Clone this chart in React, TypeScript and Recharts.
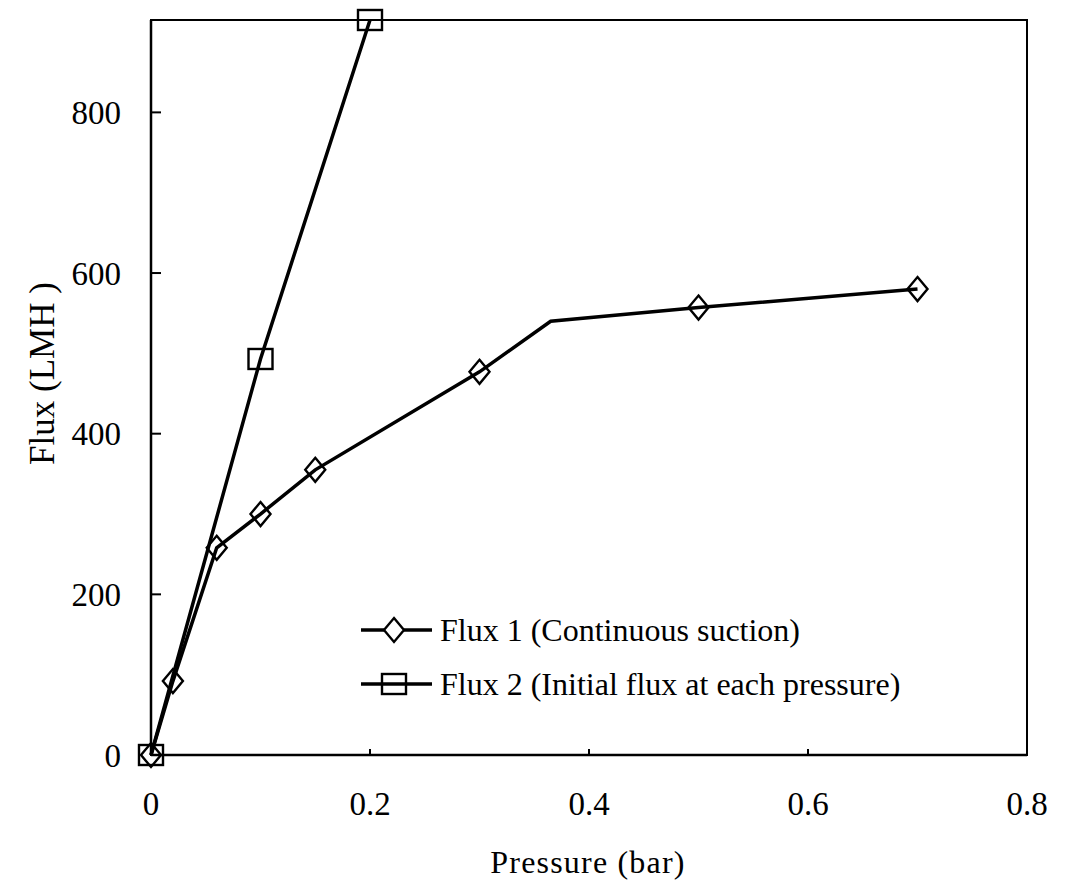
import React from 'react';
import { LineChart, Line, XAxis, YAxis, ReferenceArea, Legend } from 'recharts';

const flux1Pressure = [0, 0.02, 0.06, 0.1, 0.15, 0.3, 0.365, 0.5, 0.7];
const flux1Values = [0, 92, 258, 300, 355, 477, 540, 557, 580];
const flux1Marked = [true, true, true, true, true, true, false, true, true];
const flux2Pressure = [0, 0.1, 0.2];
const flux2Values = [0, 493, 915];
const flux2Marked = [true, true, true];

const xTicks = [0, 0.2, 0.4, 0.6, 0.8];
const xTickLabels = ['0', '0.2', '0.4', '0.6', '0.8'];
const yTicks = [0, 200, 400, 600, 800];
const yTickLabels = ['0', '200', '400', '600', '800'];
const xDomain = [0, 0.8];
const yDomain = [0, 915];
const seriesNames = ['Flux 1 (Continuous suction)', 'Flux 2 (Initial flux at each pressure)'];
const xTitle = 'Pressure (bar)';
const yTitle = 'Flux (LMH )';

const FONT = '"Liberation Serif", "Times New Roman", serif';

const flux1Data = flux1Pressure.map((p, i) => ({ x: p, y: flux1Values[i], marked: flux1Marked[i] }));
const flux2Data = flux2Pressure.map((p, i) => ({ x: p, y: flux2Values[i], marked: flux2Marked[i] }));

const DiamondDot = (props: any) => {
  const { cx, cy, payload, index } = props;
  if (!payload || !payload.marked || cx == null || cy == null) return <g key={`d-${index}`} />;
  return (
    <path
      key={`d-${index}`}
      d={`M${cx},${cy - 12} L${cx + 10},${cy} L${cx},${cy + 12} L${cx - 10},${cy} Z`}
      fill="none"
      stroke="#000"
      strokeWidth={2.4}
    />
  );
};

const SquareDot = (props: any) => {
  const { cx, cy, payload, index } = props;
  if (!payload || !payload.marked || cx == null || cy == null) return <g key={`s-${index}`} />;
  return (
    <rect
      key={`s-${index}`}
      x={cx - 12}
      y={cy - 10}
      width={24}
      height={20}
      fill="none"
      stroke="#000"
      strokeWidth={2.4}
    />
  );
};

const YTick = (props: any) => {
  const { x, y, payload } = props;
  const idx = yTicks.indexOf(payload.value);
  return (
    <g>
      <line x1={x} y1={y} x2={x + 10} y2={y} stroke="#000" strokeWidth={2} />
      <text x={x - 30} y={y} dy="0.35em" textAnchor="end" fontFamily={FONT} fontSize={33} fill="#000">
        {idx >= 0 ? yTickLabels[idx] : payload.value}
      </text>
    </g>
  );
};

const XTick = (props: any) => {
  const { x, y, payload } = props;
  const idx = xTicks.indexOf(payload.value);
  return (
    <g>
      <line x1={x} y1={y} x2={x} y2={y - 6} stroke="#000" strokeWidth={2} />
      <text x={x} y={y + 60} textAnchor="middle" fontFamily={FONT} fontSize={33} fill="#000">
        {idx >= 0 ? xTickLabels[idx] : payload.value}
      </text>
    </g>
  );
};

const YTitle = (props: any) => {
  const { viewBox } = props;
  const cx = viewBox.x + 42;
  const cy = viewBox.y + viewBox.height / 2 - 14;
  return (
    <text
      x={cx}
      y={cy}
      transform={`rotate(-90, ${cx}, ${cy})`}
      textAnchor="middle"
      dominantBaseline="central"
      fontFamily={FONT}
      fontSize={35}
      fill="#000"
    >
      {yTitle}
    </text>
  );
};

const XTitle = (props: any) => {
  const { viewBox } = props;
  const cx = viewBox.x + viewBox.width / 2 - 1;
  const by = viewBox.y + viewBox.height - 11;
  return (
    <text x={cx} y={by} textAnchor="middle" fontFamily={FONT} fontSize={32} letterSpacing={1.2} fill="#000">
      {xTitle}
    </text>
  );
};

const LegendContent = () => (
  <div style={{ fontFamily: FONT, fontSize: 32, color: '#000' }}>
    {seriesNames.map((name, i) => (
      <div key={name} style={{ display: 'flex', alignItems: 'center', height: 54, whiteSpace: 'nowrap' }}>
        <svg width={76} height={32} style={{ display: 'block' }}>
          <line x1={1} y1={16} x2={72} y2={16} stroke="#000" strokeWidth={3.5} />
          {i === 0 ? (
            <path d="M34,4 L44,16 L34,28 L24,16 Z" fill="#fff" stroke="#000" strokeWidth={2.4} />
          ) : (
            <rect x={22} y={6} width={24} height={20} fill="none" stroke="#000" strokeWidth={2.4} />
          )}
        </svg>
        <span style={{ marginLeft: 4 }}>{name}</span>
      </div>
    ))}
  </div>
);

export default function App() {
  return (
    <div style={{ position: 'absolute', left: 0, top: 0, width: 1074, height: 884, background: '#fff' }}>
      <LineChart width={1074} height={884} margin={{ top: 20, right: 47, left: 0, bottom: 0 }}>
        <XAxis
          type="number"
          dataKey="x"
          domain={xDomain}
          ticks={xTicks}
          height={129}
          tickSize={0}
          tickMargin={0}
          tickLine={false}
          axisLine={{ stroke: '#000', strokeWidth: 2.5 }}
          tick={<XTick />}
          interval={0}
          allowDuplicatedCategory={false}
          label={<XTitle />}
        />
        <YAxis
          type="number"
          dataKey="y"
          domain={yDomain}
          ticks={yTicks}
          width={151}
          tickSize={0}
          tickMargin={0}
          tickLine={false}
          axisLine={{ stroke: '#000', strokeWidth: 2.5 }}
          tick={<YTick />}
          interval={0}
          label={<YTitle />}
        />
        <ReferenceArea x1={xDomain[0]} x2={xDomain[1]} y1={yDomain[0]} y2={yDomain[1]} fill="none" stroke="#000" strokeWidth={2} />
        <Line
          data={flux1Data}
          dataKey="y"
          name={seriesNames[0]}
          type="linear"
          stroke="#000"
          strokeWidth={3.5}
          dot={<DiamondDot />}
          activeDot={false}
          isAnimationActive={false}
        />
        <Line
          data={flux2Data}
          dataKey="y"
          name={seriesNames[1]}
          type="linear"
          stroke="#000"
          strokeWidth={3.5}
          dot={<SquareDot />}
          activeDot={false}
          isAnimationActive={false}
        />
        <Legend
          layout="horizontal"
          verticalAlign="middle"
          align="center"
          content={<LegendContent />}
          wrapperStyle={{ left: 360, top: 603, width: 'auto' }}
        />
      </LineChart>
    </div>
  );
}
